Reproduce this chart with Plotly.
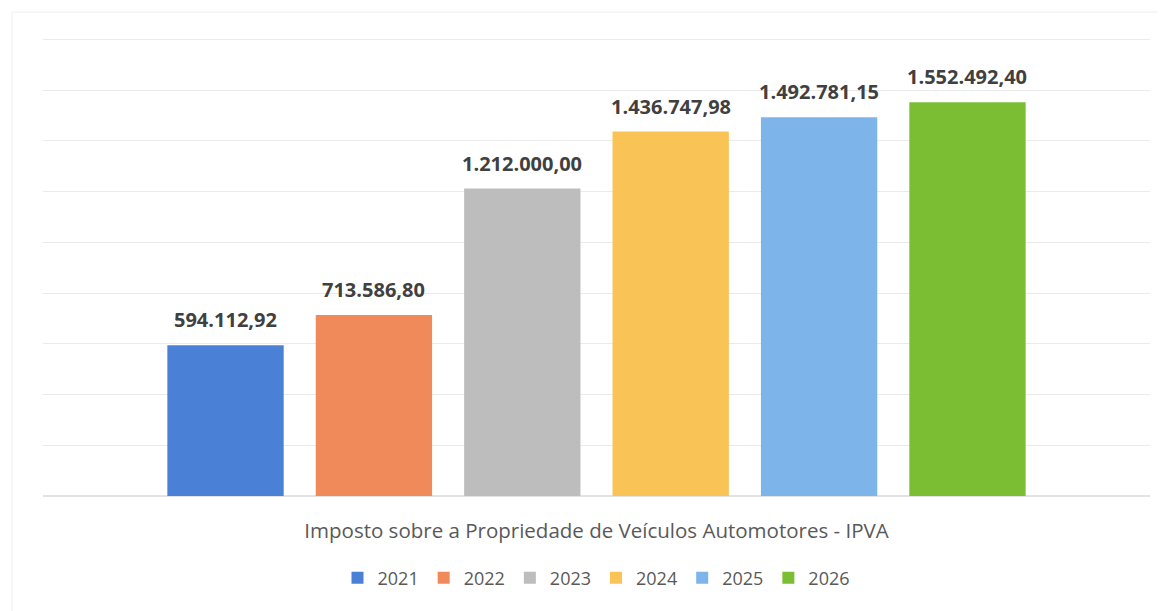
import plotly.graph_objects as go

category = "Imposto sobre a Propriedade de Veículos Automotores - IPVA"
years = ["2021", "2022", "2023", "2024", "2025", "2026"]
values = [594112.92, 713586.80, 1212000.00, 1436747.98, 1492781.15, 1552492.40]
colors = ["#4A80D6", "#F08A5B", "#BDBDBD", "#F9C455", "#7DB4EA", "#7BBE34"]

positions = list(range(len(years)))
center = (positions[0] + positions[-1]) / 2

fig = go.Figure()
for p, yr, v, c in zip(positions, years, values, colors):
    fig.add_trace(go.Bar(
        name=yr, x=[p], y=[v], width=0.784,
        marker=dict(color=c, line=dict(width=0)),
        hovertemplate=yr + ": %{y:,.2f}<extra></extra>",
    ))
    fig.add_annotation(
        x=p, y=v, xref="x", yref="y", yanchor="bottom", yshift=10,
        text=f"<b>{v:,.2f}</b>".replace(",", "X").replace(".", ",").replace("X", "."),
        showarrow=False, font=dict(family="Open Sans", size=20, color="#404040"),
    )

fig.update_layout(
    width=1158, height=603,
    paper_bgcolor="white", plot_bgcolor="white",
    separators=",.",
    margin=dict(l=35, r=16, t=6, b=115),
    font=dict(family="Open Sans", color="#595959"),
    showlegend=True,
    legend=dict(orientation="h", x=0.5, xanchor="center", y=-0.170, yanchor="middle",
                font=dict(size=18, color="#595959"), traceorder="normal"),
    shapes=[dict(type="rect", xref="paper", yref="paper",
                 x0=-0.028, x1=1.03, y0=-0.3, y1=1.004,
                 line=dict(color="#F0F0F0", width=1), layer="below")],
)
fig.update_yaxes(range=[0, 1.9e6], dtick=200000, showticklabels=False,
                 showgrid=True, gridcolor="#EAEAEA", gridwidth=1,
                 zeroline=True, zerolinecolor="#E3E3E3", showline=False)
fig.update_xaxes(range=[-1.23, 6.23], tickmode="array", tickvals=[center], ticktext=[category],
                 showgrid=False, zeroline=False, showline=False, ticks="",
                 ticklabelstandoff=20, tickfont=dict(size=20.5, color="#595959"))

fig.write_html("out.html")
